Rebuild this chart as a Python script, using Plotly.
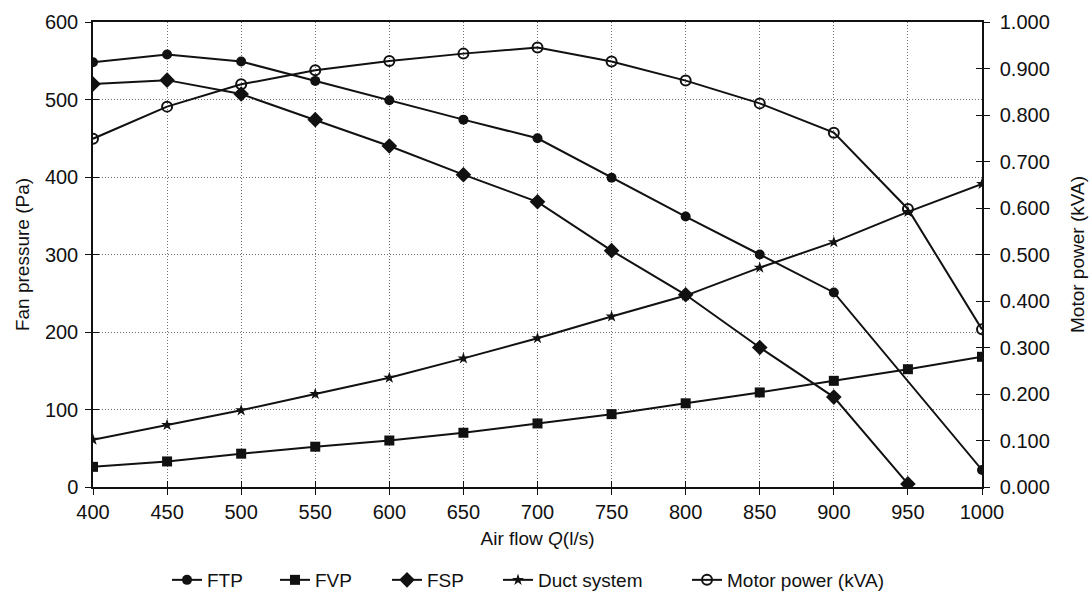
import plotly.graph_objects as go

# Air flow (l/s)
airflow = [400, 450, 500, 550, 600, 650, 700, 750, 800, 850, 900, 950, 1000]

# Pressures (Pa)
ftp = [548, 558, 549, 524, 499, 474, 450, 399, 349, 300, 251, None, 22]
fvp = [26, 33, 43, 52, 60, 70, 82, 94, 108, 122, 137, 152, 168]
fsp = [520, 525, 507, 474, 440, 403, 368, 305, 248, 180, 116, 4, None]
duct = [61, 80, 99, 120, 141, 166, 192, 220, 247, 283, 316, 355, 391]

# Motor power (kVA)
motor = [0.749, 0.818, 0.866, 0.896, 0.916, 0.932, 0.945, 0.915, 0.874, 0.825, 0.762, 0.598, 0.339]

FONT = "Liberation Sans, Arial, sans-serif"
INK = "#111111"

fig = go.Figure()

line = dict(color=INK, width=2)
fig.add_trace(go.Scatter(x=airflow, y=ftp, name="FTP", mode="lines+markers",
                         line=line, connectgaps=True, legend="legend",
                         marker=dict(symbol="circle", size=10, color=INK)))
fig.add_trace(go.Scatter(x=airflow, y=fvp, name="FVP", mode="lines+markers",
                         line=line, legend="legend2",
                         marker=dict(symbol="square", size=10, color=INK)))
fig.add_trace(go.Scatter(x=airflow, y=fsp, name="FSP", mode="lines+markers",
                         line=line, legend="legend3",
                         marker=dict(symbol="diamond", size=12, color=INK)))
fig.add_trace(go.Scatter(x=airflow, y=duct, name="Duct system", mode="lines+markers",
                         line=line, legend="legend4",
                         marker=dict(symbol="star", size=9, color=INK)))
fig.add_trace(go.Scatter(x=airflow, y=motor, name="Motor power (kVA)", mode="lines+markers",
                         line=line, yaxis="y2", legend="legend5",
                         marker=dict(symbol="circle-open", size=10, color=INK,
                                     line=dict(width=2, color=INK))))

tickfont = dict(family=FONT, size=20, color=INK)
titlefont = dict(family=FONT, size=19, color=INK)
grid = dict(showgrid=True, gridcolor="#6f6f6f", griddash="1px,2px", gridwidth=1)

# one single-entry legend per series, spaced along the bottom
legend_left_px = [167, 275, 387, 498, 687]
PLOT_L, PLOT_R = 93, 982
legends = {}
for i, px in enumerate(legend_left_px):
    key = "legend" if i == 0 else f"legend{i + 1}"
    legends[key] = dict(orientation="h", x=(px - PLOT_L) / (PLOT_R - PLOT_L), xanchor="left",
                        y=-0.2, yanchor="middle", itemwidth=30,
                        font=dict(family=FONT, size=19, color=INK),
                        bgcolor="rgba(0,0,0,0)", borderwidth=0)

fig.update_layout(
    width=1089, height=594,
    paper_bgcolor="white", plot_bgcolor="white",
    margin=dict(l=PLOT_L, r=1089 - PLOT_R, t=22, b=107, autoexpand=False),
    font=dict(family=FONT, color=INK),
    xaxis=dict(range=[400, 1000], dtick=50, tick0=400,
               ticks="outside", ticklen=6, tickcolor=INK, tickwidth=1,
               showline=True, linecolor=INK, linewidth=1.5, mirror=True,
               tickfont=tickfont, zeroline=False, automargin=False,
               title=dict(text="Air flow <i>Q</i>(l/s)", font=titlefont, standoff=10),
               **grid),
    yaxis=dict(range=[0, 600], dtick=100,
               ticks="outside", ticklen=6, tickcolor=INK, tickwidth=1,
               showline=True, linecolor=INK, linewidth=1.5, ticklabelstandoff=3,
               tickfont=tickfont, zeroline=False, automargin=False,
               title=dict(text="Fan pressure (Pa)", font=titlefont, standoff=10),
               **grid),
    yaxis2=dict(range=[0, 1.0], dtick=0.1, tickformat=".3f",
                overlaying="y", side="right", anchor="x",
                ticks="outside", ticklen=6, tickcolor=INK, tickwidth=1,
                showline=True, linecolor=INK, linewidth=1.5, automargin=False,
                ticklabelstandoff=6,
                showgrid=False, zeroline=False, tickfont=tickfont,
                title=dict(text="Motor power (kVA)", font=titlefont, standoff=22)),
    # inner halves of the crossing tick marks
    xaxis3=dict(range=[400, 1000], dtick=50, tick0=400, overlaying="x", anchor="y",
                ticks="inside", ticklen=6, tickcolor=INK, tickwidth=1,
                showticklabels=False, showgrid=False, zeroline=False, showline=False),
    yaxis3=dict(range=[0, 600], dtick=100, overlaying="y", anchor="x",
                ticks="inside", ticklen=6, tickcolor=INK, tickwidth=1,
                showticklabels=False, showgrid=False, zeroline=False, showline=False),
    yaxis4=dict(range=[0, 1.0], dtick=0.1, overlaying="y", side="right", anchor="x",
                ticks="inside", ticklen=6, tickcolor=INK, tickwidth=1,
                showticklabels=False, showgrid=False, zeroline=False, showline=False),
    showlegend=True,
    **legends,
)

# invisible traces so the tick-only overlay axes are drawn
fig.add_trace(go.Scatter(x=[400], y=[0], xaxis="x3", yaxis="y3", mode="markers",
                         marker=dict(opacity=0), showlegend=False, hoverinfo="skip"))
fig.add_trace(go.Scatter(x=[400], y=[0], xaxis="x3", yaxis="y4", mode="markers",
                         marker=dict(opacity=0), showlegend=False, hoverinfo="skip"))

fig.write_html("out.html")
